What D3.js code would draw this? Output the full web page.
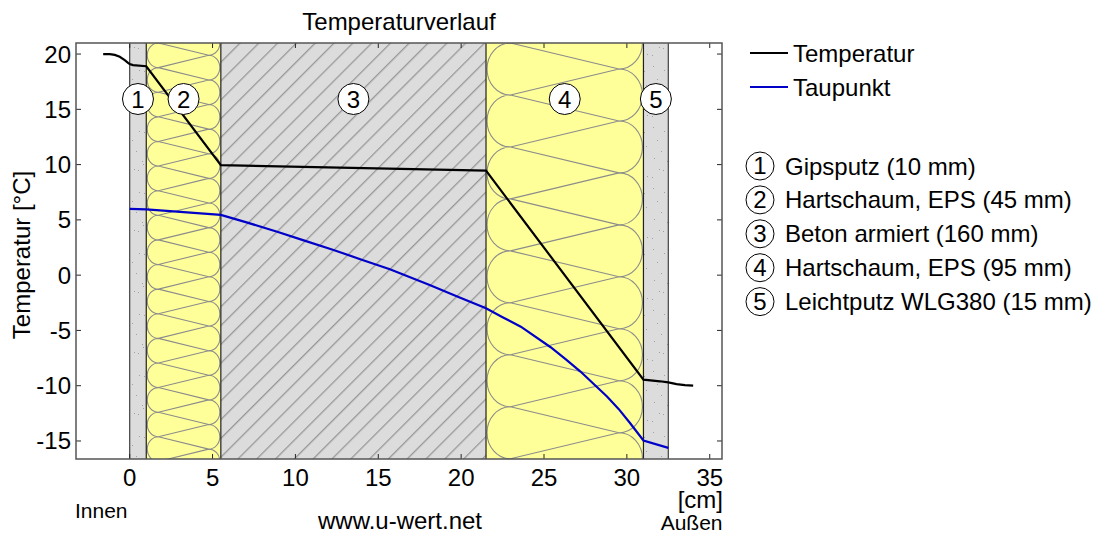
<!DOCTYPE html>
<html>
<head>
<meta charset="utf-8">
<script src="https://cdn.jsdelivr.net/npm/d3@7"></script>
<style>
  body { margin: 0; background: #fff; }
  text { font-family: "Liberation Sans", Arial, sans-serif; fill: #000; }
</style>
</head>
<body>
<div id="chart"></div>
<script>
// Layers: boundaries in cm, from inside to outside
const layerNames = ["Gipsputz (10 mm)", "Hartschaum, EPS (45 mm)", "Beton armiert (160 mm)", "Hartschaum, EPS (95 mm)", "Leichtputz WLG380 (15 mm)"];
const layerStart = [0, 1, 5.5, 21.5, 31];
const layerEnd = [1, 5.5, 21.5, 31, 32.5];
const layerType = ["plaster", "foam", "concrete", "foam", "plaster"];

// Curves
const tempX = [-1.6, -1.2, -0.9, -0.6, -0.3, -0.1, 0, 0.2, 1, 5.5, 21.5, 31, 32, 32.5, 33, 33.5, 34];
const tempY = [20, 20, 19.92, 19.75, 19.45, 19.2, 19.1, 19.0, 18.9, 9.95, 9.45, -9.45, -9.6, -9.7, -9.85, -9.95, -10];
const dewX = [0, 1, 5.5, 7, 8.9, 10.5, 12.3, 14, 15.7, 18.1, 19.8, 21.5, 22.5, 23.6, 25.4, 26.3, 27.2, 28, 28.8, 29.5, 30.2, 31, 32.5];
const dewY = [6, 5.95, 5.45, 4.8, 3.93, 3.15, 2.28, 1.4, 0.53, -0.89, -1.95, -3, -3.8, -4.66, -6.52, -7.6, -8.72, -9.85, -10.98, -12.1, -13.4, -14.96, -15.62];

const xTicks = [0, 5, 10, 15, 20, 25, 30, 35];
const yTicks = [-15, -10, -5, 0, 5, 10, 15, 20];

const width = 1093, height = 534;
const left = 76, right = 722, top_ = 43, bottom = 459;
const fs = 24;

const svg = d3.select("#chart").append("svg")
    .attr("width", width).attr("height", height)
    .style("display", "block");

const x = d3.scaleLinear().domain([-3.24, 35.74]).range([left, right]);
const y = d3.scaleLinear().domain([21, -16.63]).range([top_, bottom]);

const defs = svg.append("defs");
defs.append("clipPath").attr("id", "plot").append("rect")
    .attr("x", left).attr("y", top_).attr("width", right - left).attr("height", bottom - top_);

// concrete hatching
const hatch = defs.append("pattern").attr("id", "hatch").attr("patternUnits", "userSpaceOnUse")
    .attr("width", 13.3).attr("height", 13.3).attr("patternTransform", "rotate(45)");
hatch.append("rect").attr("width", 13.3).attr("height", 13.3).attr("fill", "#dcdcdc");
hatch.append("line").attr("x1", 0.7).attr("x2", 0.7).attr("y1", 0).attr("y2", 13.3)
    .attr("stroke", "#8c8c8c").attr("stroke-width", 1.1);

// plaster speckle
const speckle = defs.append("pattern").attr("id", "speckle").attr("patternUnits", "userSpaceOnUse")
    .attr("width", 25).attr("height", 61);
speckle.append("rect").attr("width", 25).attr("height", 61).attr("fill", "#dcdcdc");
[[3, 5], [14, 9], [19, 10], [7, 18], [21, 24], [11, 29], [4, 36], [17, 39], [18, 42], [9, 47], [13, 48], [2, 55], [22, 54]]
    .forEach(d => speckle.append("rect").attr("x", d[0]).attr("y", d[1]).attr("width", 1).attr("height", 1).attr("fill", "#a0a0a0"));

const plot = svg.append("g").attr("clip-path", "url(#plot)");
const layers = layerStart.map((s, i) => ({ s, e: layerEnd[i], type: layerType[i], n: i + 1 }));

plot.selectAll(".layer").data(layers).enter().append("rect")
    .attr("class", "layer")
    .attr("x", d => x(d.s)).attr("width", d => x(d.e) - x(d.s))
    .attr("y", top_).attr("height", bottom - top_)
    .attr("fill", d => d.type === "foam" ? "#ffff99" : d.type === "concrete" ? "url(#hatch)" : "url(#speckle)");

// insulation loops
function foamPath(d) {
    const w = x(d.e) - x(d.s);
    const rx = 0.149 * w, p = w / 3.03, r = p / 2;
    const xl = x(d.s) + 1 + rx, xr = x(d.e) - 1 - rx;
    let path = "";
    for (let yy = top_ - p; yy < bottom + p; yy += p) {
        path += `M${xl},${yy}L${xr},${yy + r}L${xl},${yy + p}`;
        path += `M${xl},${yy}A${rx},${r} 0 0 0 ${xl},${yy + p}`;
        path += `M${xr},${yy + r}A${rx},${r} 0 0 1 ${xr},${yy + r + p}`;
    }
    return path;
}
plot.selectAll(".foam").data(layers.filter(d => d.type === "foam")).enter().append("path")
    .attr("class", "foam").attr("d", foamPath)
    .attr("fill", "none").attr("stroke", "#8c8c8c").attr("stroke-width", 1.1);

// layer borders
plot.selectAll(".border").data(d3.union(layerStart, layerEnd)).enter().append("line")
    .attr("class", "border")
    .attr("x1", d => x(d)).attr("x2", d => x(d)).attr("y1", top_).attr("y2", bottom)
    .attr("stroke", d => d === 0 || d === 32.5 ? "#404040" : "#202020").attr("stroke-width", 1.2);

// frame and ticks
const tickColor = "#262626";
const frame = svg.append("g");
frame.selectAll(".xb").data(xTicks).enter().append("line").attr("class", "xb")
    .attr("x1", d => x(d)).attr("x2", d => x(d)).attr("y1", bottom).attr("y2", bottom - 5)
    .attr("stroke", tickColor);
frame.selectAll(".xt").data(xTicks).enter().append("line").attr("class", "xt")
    .attr("x1", d => x(d)).attr("x2", d => x(d)).attr("y1", top_).attr("y2", top_ + 5)
    .attr("stroke", tickColor);
frame.selectAll(".yl").data(yTicks).enter().append("line").attr("class", "yl")
    .attr("x1", left).attr("x2", left + 5).attr("y1", d => y(d)).attr("y2", d => y(d))
    .attr("stroke", tickColor);
frame.selectAll(".yr").data(yTicks).enter().append("line").attr("class", "yr")
    .attr("x1", right).attr("x2", right - 5).attr("y1", d => y(d)).attr("y2", d => y(d))
    .attr("stroke", tickColor);
frame.append("rect").attr("x", left).attr("y", top_).attr("width", right - left).attr("height", bottom - top_)
    .attr("fill", "none").attr("stroke", "#555").attr("stroke-width", 1.5);

// lines
const line = d3.line().x(d => x(d[0])).y(d => y(d[1]));
plot.append("path").datum(d3.zip(dewX, dewY)).attr("d", line)
    .attr("fill", "none").attr("stroke", "#0000c8").attr("stroke-width", 2.2);
plot.append("path").datum(d3.zip(tempX, tempY)).attr("d", line)
    .attr("fill", "none").attr("stroke", "#000").attr("stroke-width", 2.2);

// numbered circles on the layers
const badge = svg.append("g").selectAll("g").data(layers).enter().append("g")
    .attr("transform", d => `translate(${x((d.s + d.e) / 2)},99)`);
badge.append("circle").attr("r", 15.5).attr("fill", "#fff").attr("stroke", "#000").attr("stroke-width", 1);
badge.append("text").attr("text-anchor", "middle").attr("y", 8.5).attr("font-size", fs).text(d => d.n);

// tick labels
svg.append("g").selectAll("text").data(xTicks).enter().append("text")
    .attr("x", d => x(d)).attr("y", 486).attr("text-anchor", "middle").attr("font-size", fs).text(d => d);
svg.append("g").selectAll("text").data(yTicks).enter().append("text")
    .attr("x", 71).attr("y", d => y(d) + 8.5).attr("text-anchor", "end").attr("font-size", fs).text(d => d);

// titles
svg.append("text").attr("x", 399).attr("y", 30).attr("text-anchor", "middle").attr("font-size", fs).text("Temperaturverlauf");
svg.append("text").attr("transform", "translate(30,255) rotate(-90)").attr("text-anchor", "middle").attr("font-size", fs).text("Temperatur [°C]");
svg.append("text").attr("x", 723).attr("y", 507.5).attr("text-anchor", "end").attr("font-size", fs).text("[cm]");
svg.append("text").attr("x", 722.5).attr("y", 530).attr("text-anchor", "end").attr("font-size", 21).text("Außen");
svg.append("text").attr("x", 75).attr("y", 518).attr("font-size", 21).text("Innen");
svg.append("text").attr("x", 400).attr("y", 529).attr("text-anchor", "middle").attr("font-size", fs).text("www.u-wert.net");

// legend
const seriesNames = ["Temperatur", "Taupunkt"];
const seriesColors = ["#000", "#0000c8"];
const legend = svg.append("g").selectAll("g").data(seriesNames).enter().append("g")
    .attr("transform", (d, i) => `translate(750,${53 + i * 34})`);
legend.append("line").attr("x2", 38).attr("stroke", (d, i) => seriesColors[i]).attr("stroke-width", 2);
legend.append("text").attr("x", 43).attr("y", 8.5).attr("font-size", fs).text(d => d);

const layerLegend = svg.append("g").selectAll("g").data(layerNames).enter().append("g")
    .attr("transform", (d, i) => `translate(760,${166 + i * 33.9})`);
layerLegend.append("circle").attr("r", 14).attr("fill", "#fff").attr("stroke", "#000").attr("stroke-width", 1);
layerLegend.append("text").attr("text-anchor", "middle").attr("y", 8).attr("font-size", fs).text((d, i) => i + 1);
layerLegend.append("text").attr("x", 25).attr("y", 8.5).attr("font-size", fs).text(d => d);
</script>
</body>
</html>
